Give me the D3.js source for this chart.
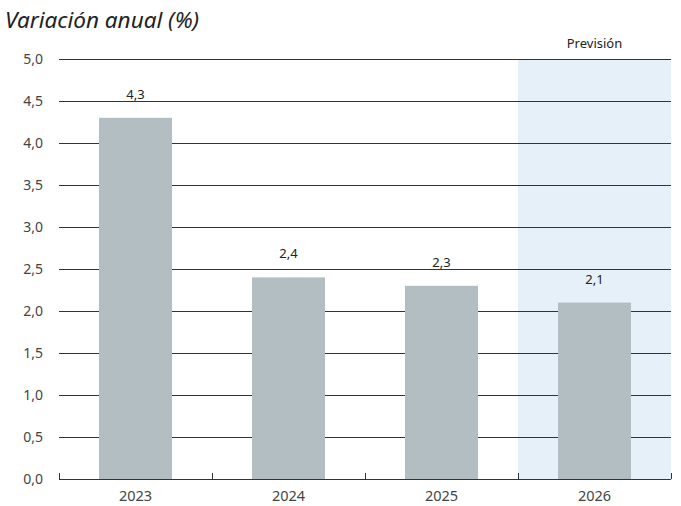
<!DOCTYPE html>
<html><head><meta charset="utf-8">
<script src="https://cdn.jsdelivr.net/npm/d3@7"></script>
<style>body{margin:0;background:#fff;} svg{display:block;}</style>
</head><body>
<script>
const years = ["2023","2024","2025","2026"];
const values = [4.3, 2.4, 2.3, 2.1];
const yTicks = [0,0.5,1,1.5,2,2.5,3,3.5,4,4.5,5];
const forecastYears = ["2026"];
const title = "Variación anual (%)";
const forecastLabel = "Previsión";

const W = 681, H = 506;
const m = {left:59, right:10, top:59, bottom:27};
const svg = d3.select("body").append("svg").attr("width",W).attr("height",H);
const font = "'Noto Sans', 'Open Sans', sans-serif";
const x = d3.scaleBand().domain(years).range([m.left, W-m.right]).paddingInner(0.523).paddingOuter(0.2615);
const xb = d3.scaleBand().domain(years).range([m.left, W-m.right]);
const y = d3.scaleLinear().domain([0,5]).range([H-m.bottom, m.top]);

// forecast shading
svg.selectAll("rect.fc").data(forecastYears).join("rect")
  .attr("x", d=>xb(d)).attr("width", xb.bandwidth())
  .attr("y", y(5)).attr("height", y(0)-y(5)).attr("fill","#e5f0f8");
svg.selectAll("text.fc").data(forecastYears).join("text")
  .attr("x", d=>xb(d)+xb.bandwidth()/2).attr("y", 48).attr("text-anchor","middle")
  .attr("font-family",font).attr("font-size",13).attr("fill","#222").text(forecastLabel);

// grid
svg.selectAll("line.grid").data(yTicks.filter(d=>d>0)).join("line")
  .attr("x1", m.left).attr("x2", W-m.right)
  .attr("y1", d=>Math.round(y(d))+0.5).attr("y2", d=>Math.round(y(d))+0.5)
  .attr("stroke","#333").attr("stroke-width",1);

// bars
svg.selectAll("rect.bar").data(years).join("rect")
  .attr("x", d=>x(d)).attr("width", x.bandwidth())
  .attr("y", (d,i)=>y(values[i])).attr("height", (d,i)=>y(0)-y(values[i]))
  .attr("fill","#b3bec2");
svg.selectAll("text.val").data(years).join("text")
  .attr("x", d=>x(d)+x.bandwidth()/2).attr("y", (d,i)=>y(values[i])-19)
  .attr("text-anchor","middle").attr("font-family",font).attr("font-size",13).attr("fill","#222")
  .text((d,i)=>d3.format(".1f")(values[i]).replace(".",","));

// y labels
svg.selectAll("text.yl").data(yTicks).join("text")
  .attr("x", 43).attr("y", d=>y(d)+5).attr("text-anchor","end")
  .attr("font-family",font).attr("font-size",14).attr("fill","#444")
  .text(d=>d3.format(".1f")(d).replace(".",","));

// x axis
const ax = svg.append("g");
ax.append("line").attr("x1",m.left).attr("x2",W-m.right)
  .attr("y1",Math.round(y(0))+0.5).attr("y2",Math.round(y(0))+0.5).attr("stroke","#333");
const bounds = years.map(d=>xb(d)).concat([W-m.right]);
ax.selectAll("line.tk").data(bounds).join("line")
  .attr("x1",d=>Math.round(d)+0.5).attr("x2",d=>Math.round(d)+0.5)
  .attr("y1",y(0)).attr("y2",y(0)-6).attr("stroke","#333");
ax.selectAll("text.xl").data(years).join("text")
  .attr("x", d=>xb(d)+xb.bandwidth()/2).attr("y", 501).attr("text-anchor","middle")
  .attr("font-family",font).attr("font-size",14.5).attr("fill","#444").text(d=>d);

svg.append("text").attr("x",5).attr("y",28).attr("font-family",font).attr("font-style","italic")
  .attr("font-size",22.5).attr("fill","#222").text(title);
</script>
</body></html>
